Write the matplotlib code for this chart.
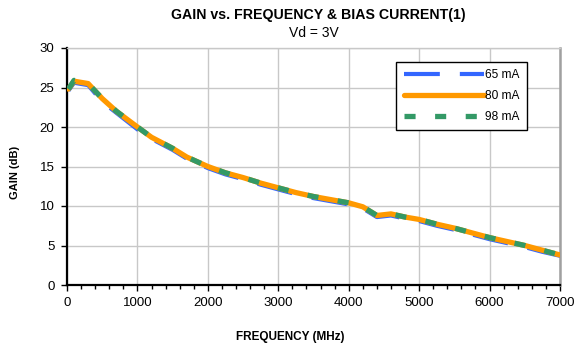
import matplotlib
matplotlib.use("Agg")
import matplotlib.pyplot as plt
from matplotlib.ticker import MultipleLocator

plt.rcParams['font.family'] = ['Liberation Sans', 'DejaVu Sans']

freq_mhz = [20, 100, 300, 500, 700, 1000, 1200, 1500, 1700, 2000, 2250, 2500,
            2750, 3000, 3250, 3500, 3750, 4000, 4200, 4400, 4600, 4800, 5000,
            5250, 5500, 5750, 6000, 6250, 6500, 6750, 7000]
gain_65ma = [24.6, 25.6, 25.3, 23.2, 21.8, 19.7, 18.5, 17.1, 16.0, 14.8, 14.0, 13.4,
             12.7, 12.1, 11.5, 11.0, 10.6, 10.2, 9.7, 8.6, 8.8, 8.4, 8.1,
             7.5, 7.0, 6.4, 5.8, 5.3, 4.8, 4.2, 3.7]
gain_80ma = [24.8, 25.8, 25.5, 23.6, 22.0, 20.0, 18.7, 17.3, 16.2, 15.0, 14.2, 13.6,
             12.9, 12.3, 11.7, 11.2, 10.8, 10.4, 9.9, 8.8, 9.0, 8.6, 8.3,
             7.7, 7.2, 6.6, 6.0, 5.5, 5.0, 4.4, 3.8]
gain_98ma = [24.8, 25.9, 25.5, 23.6, 22.0, 20.0, 18.7, 17.3, 16.2, 15.0, 14.2, 13.6,
             12.9, 12.3, 11.7, 11.2, 10.8, 10.4, 9.9, 8.8, 9.0, 8.6, 8.3,
             7.7, 7.2, 6.6, 6.0, 5.5, 5.0, 4.4, 3.8]
series_labels = ['65 mA', '80 mA', '98 mA']

W, H = 574, 350
fig = plt.figure(figsize=(W / 100, H / 100), dpi=100)
# plot area in pixels: left 67, right 560, top 48, bottom 285
ax = fig.add_axes([67 / W, 1 - 285 / H, (560 - 67) / W, (285 - 48) / H])

ax.plot(freq_mhz, gain_65ma, color='#3366ff', lw=3.0, ls=(0, (8.6, 4.8)),
        label=series_labels[0], zorder=3)
ax.plot(freq_mhz, gain_80ma, color='#ff9900', lw=3.8, ls='-',
        solid_capstyle='round', label=series_labels[1], zorder=4)
ax.plot(freq_mhz, gain_98ma, color='#339966', lw=3.8, ls=(0, (2.1, 3.7)),
        label=series_labels[2], zorder=5)

ax.set_xlim(0, 7000)
ax.set_ylim(0, 30)
ax.xaxis.set_major_locator(MultipleLocator(1000))
ax.xaxis.set_minor_locator(MultipleLocator(200))
ax.yaxis.set_major_locator(MultipleLocator(5))
ax.grid(True, which='major', color='#c8c8c8', lw=1.0)
ax.set_axisbelow(True)

for side in ('left', 'bottom'):
    ax.spines[side].set_color('black')
    ax.spines[side].set_linewidth(1.6)
ax.spines['right'].set_color('#a0a0a0')
ax.spines['right'].set_linewidth(1.8)
ax.spines['top'].set_color('#c8c8c8')
ax.spines['top'].set_linewidth(1.0)

ax.tick_params(axis='both', which='major', direction='out', length=4, width=1,
               labelsize=9.5, colors='black')
ax.tick_params(axis='x', which='minor', direction='out', length=3, width=1)
ax.tick_params(axis='x', pad=5)
ax.tick_params(axis='y', pad=5)

ax.set_xlabel('FREQUENCY (MHz)', fontsize=8.5, fontweight='bold', va='center')
ax.xaxis.set_label_coords(0.452, -0.219)
ax.set_ylabel('GAIN (dB)', fontsize=8, fontweight='bold', va='center')
ax.yaxis.set_label_coords(-0.105, 0.473)

fig.text(318 / W, 1 - 15.5 / H, 'GAIN vs. FREQUENCY & BIAS CURRENT(1)', ha='center',
         va='center', fontsize=10.2, fontweight='bold')
fig.text(314 / W, 1 - 33 / H, 'Vd = 3V', ha='center', va='center', fontsize=10)

leg = ax.legend(loc='upper right', bbox_to_anchor=(0.933, 0.941), borderaxespad=0,
                fontsize=8.6, handlelength=6.7, handletextpad=0.15,
                labelspacing=0.75, borderpad=0.6, fancybox=False, framealpha=1,
                edgecolor='black')
leg.get_frame().set_linewidth(1.0)

fig.savefig('out.png', dpi=100)
